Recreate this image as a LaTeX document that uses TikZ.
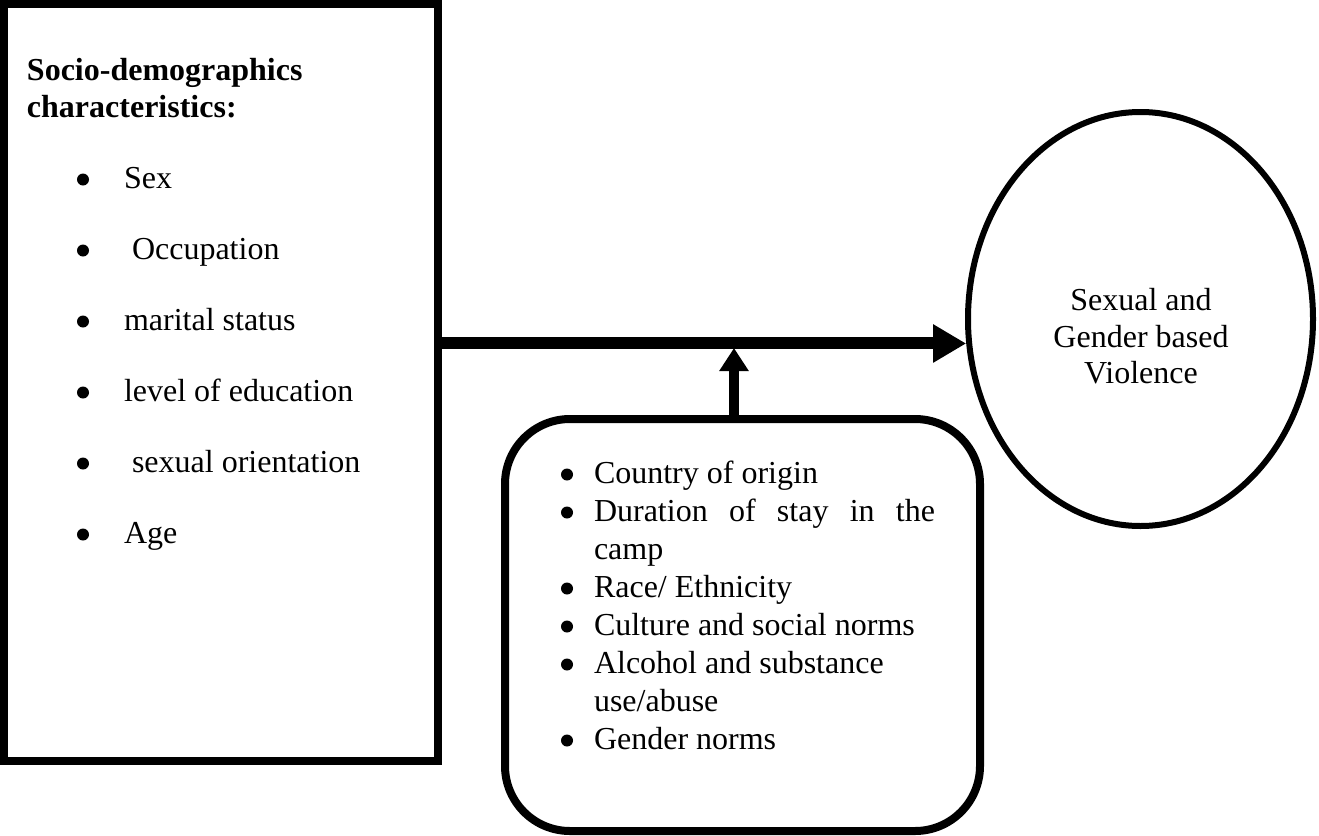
\documentclass[tikz,border=0pt]{standalone}
\usepackage{fontspec}
\setmainfont{Liberation Serif}
\usetikzlibrary{arrows.meta,shapes.geometric}
\begin{document}
\begin{tikzpicture}[x=1pt,y=-1pt,
  txt/.style={anchor=base west, inner sep=0pt, outer sep=0pt, font=\fontsize{32}{37}\selectfont},
  hdr/.style={anchor=base west, inner sep=0pt, outer sep=0pt, font=\fontsize{32}{37}\selectfont\bfseries},
  ctxt/.style={anchor=base, inner sep=0pt, outer sep=0pt, font=\fontsize{32}{37}\selectfont},
  frame/.style={draw=black, line width=8pt, inner sep=0pt, outer sep=4pt},
  bul/.style={fill=black},
  harrow/.style={draw=black, line width=12pt, -{Triangle[length=33pt,width=36pt]}},
  varrow/.style={draw=black, line width=10pt, -{Triangle[length=23pt,width=28pt]}},
]
\useasboundingbox (0,0) rectangle (1319,835);
\fill[white] (0,0) rectangle (1319,835);

% left box
\node[frame, minimum width=434pt, minimum height=757pt] (demo) at (221,382.5) {};
\node[hdr] (h1) at (27,80) {Socio-demographics};
\node[hdr] (h2) at (27,117) {characteristics:};
\foreach \y in {188,259,330,401,472,543} {\fill[bul] (83,\y-8.5) circle[radius=6pt];}
\node[txt] (l1) at (124,188) {Sex};
\node[txt] (l2) at (132,259) {Occupation};
\node[txt] (l3) at (124,330) {marital status};
\node[txt] (l4) at (124,401) {level of education};
\node[txt] (l5) at (132,472) {sexual orientation};
\node[txt] (l6) at (124,543) {Age};

% ellipse
\node[draw=black, ellipse, line width=6pt, minimum width=345pt, minimum height=414pt, inner sep=0pt, outer sep=3pt] (sgbv) at (1140.5,319) {};
\node[ctxt] (s1) at (1141,310) {Sexual and};
\node[ctxt] (s2) at (1141,347) {Gender based};
\node[ctxt] (s3) at (1141,383) {Violence};

% factors box
\node[frame, rounded corners=65pt, minimum width=475pt, minimum height=412pt] (factors) at (742.5,625) {};
\foreach \y in {483,521,597,635,673,749} {\fill[bul] (567,\y-8.5) circle[radius=6pt];}
\node[txt] (f1) at (594,483) {Country of origin};
\node[txt] (f2) at (594,521) {\makebox[341pt][s]{Duration of stay in the}};
\node[txt] (f3) at (594,559) {camp};
\node[txt] (f4) at (594,597) {Race/ Ethnicity};
\node[txt] (f5) at (594,635) {Culture and social norms};
\node[txt] (f6) at (594,673) {Alcohol and substance};
\node[txt] (f7) at (594,711) {use/abuse};
\node[txt] (f8) at (594,749) {Gender norms};

% connectors
\draw[harrow] (demo.east |- sgbv.188) -- (sgbv.188);
\coordinate (vtip) at (734,348);
\draw[varrow] (factors.north -| vtip) -- (vtip);
\end{tikzpicture}
\end{document}
